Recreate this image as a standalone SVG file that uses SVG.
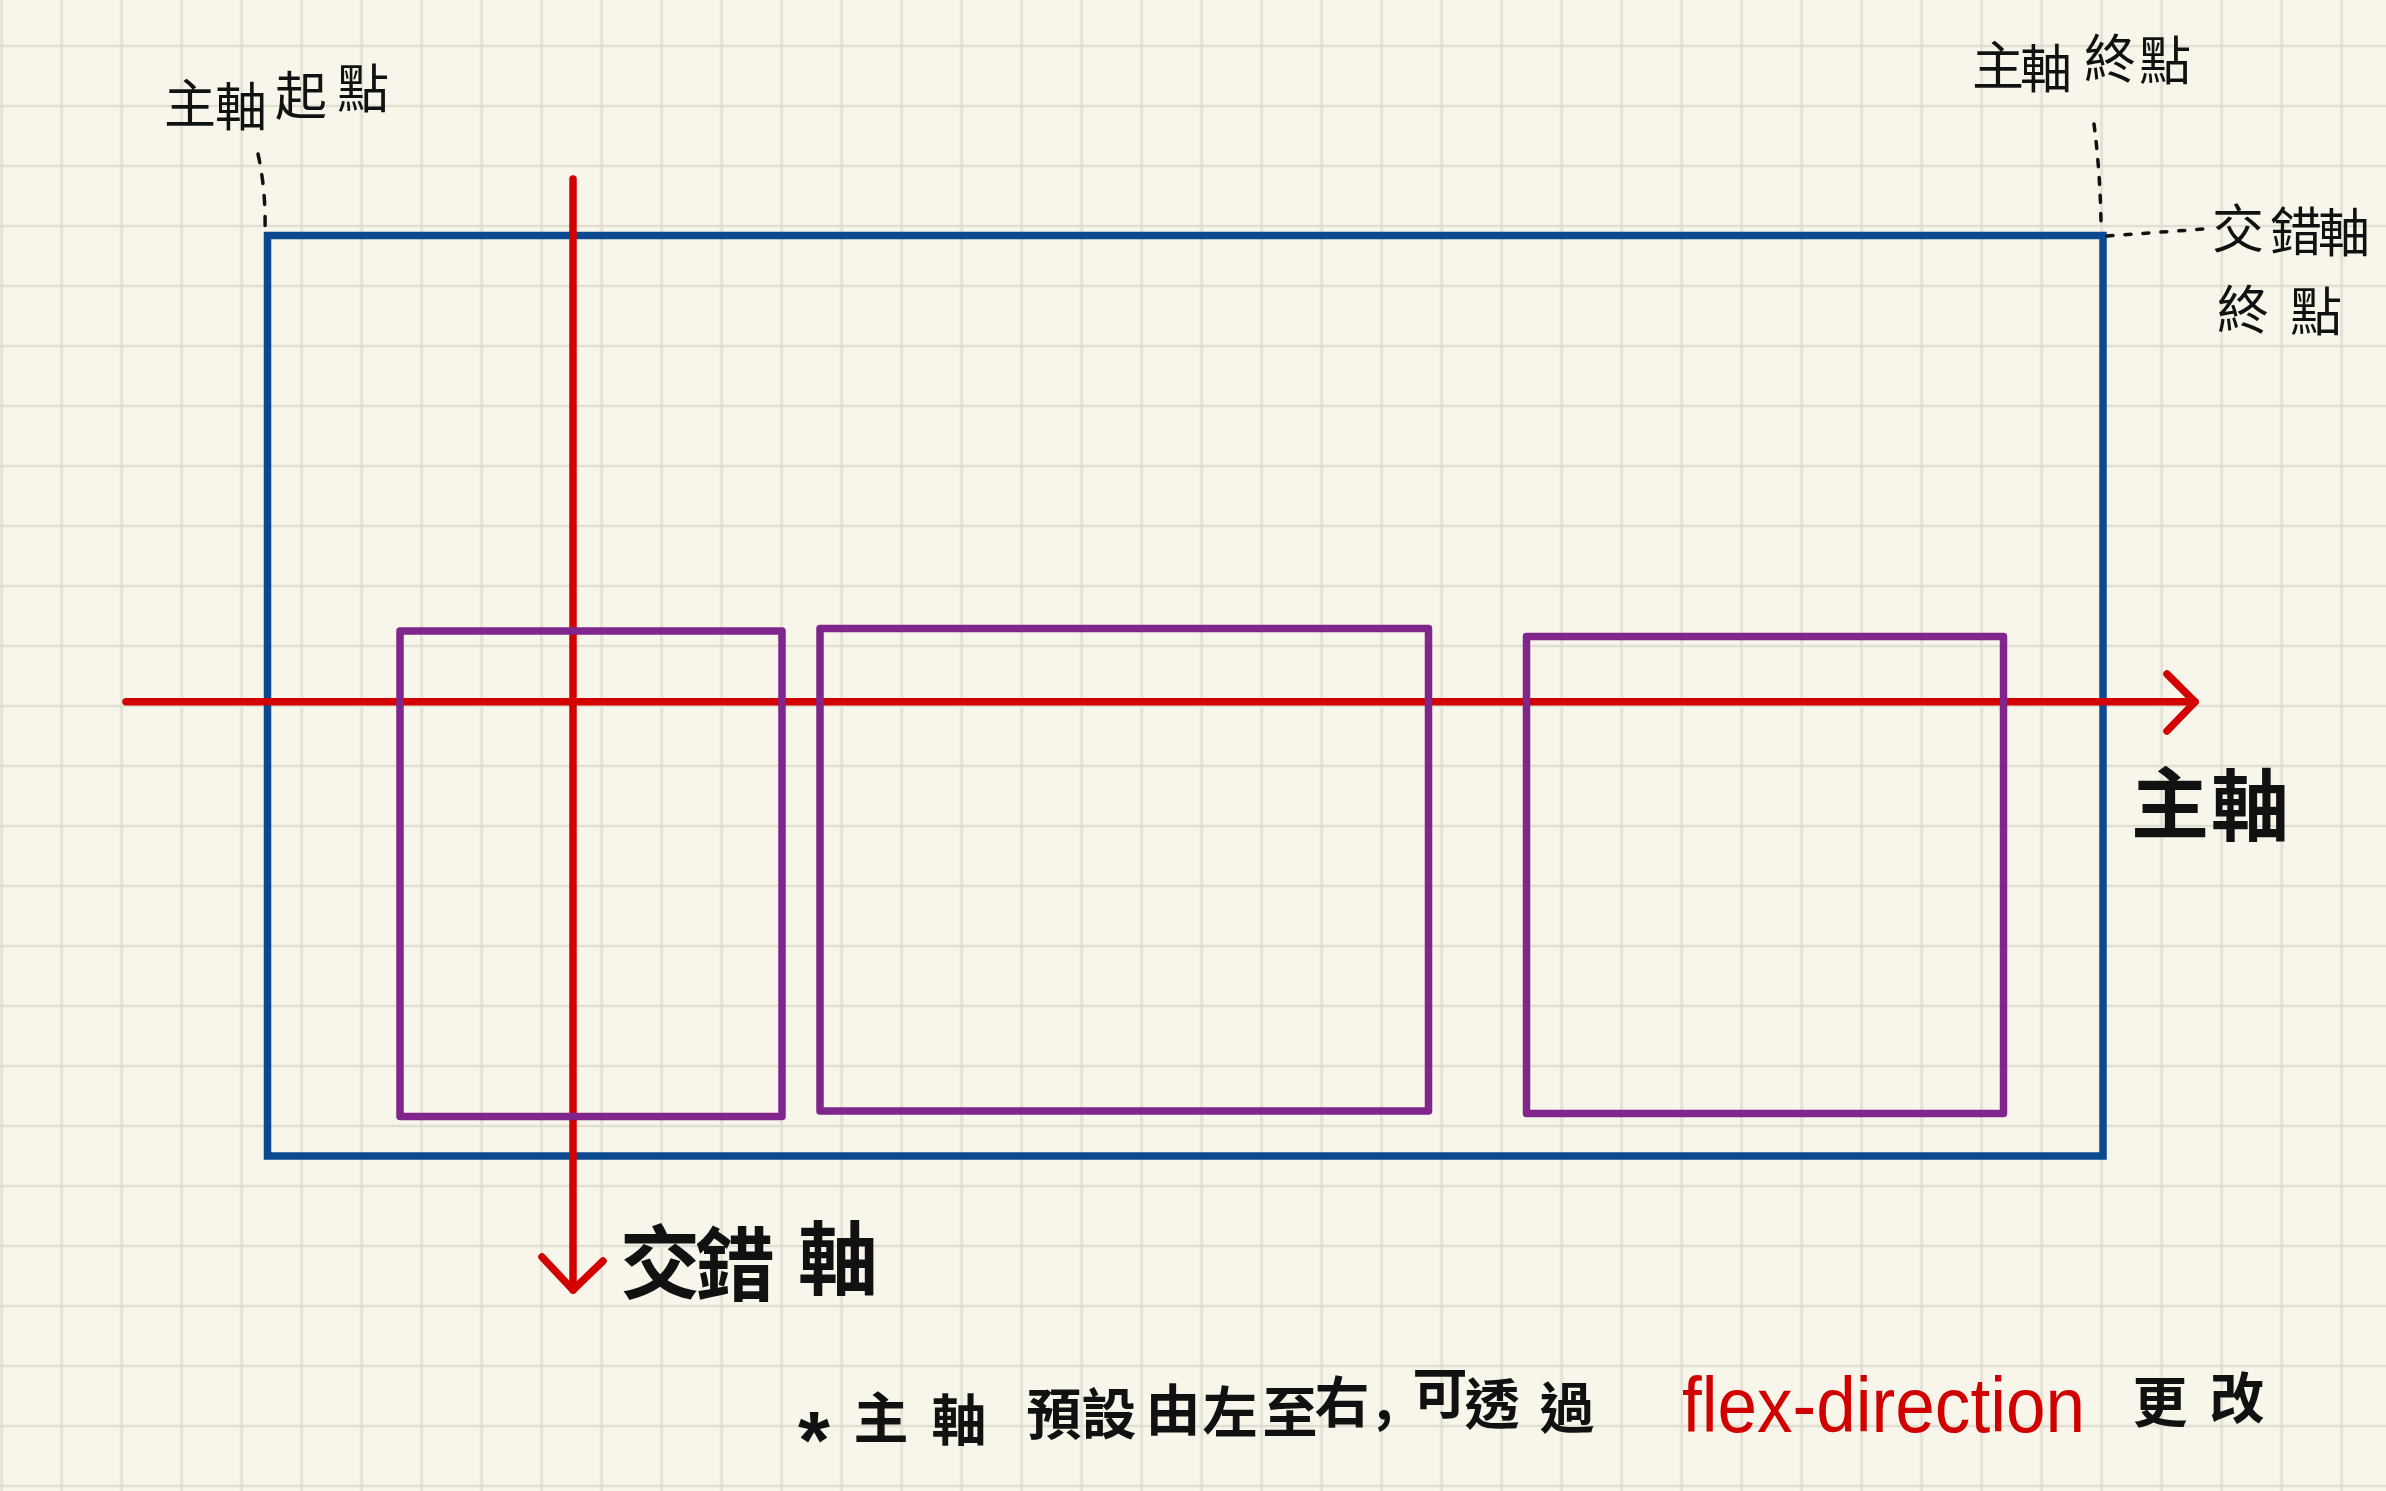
<svg xmlns="http://www.w3.org/2000/svg" width="2386" height="1491" viewBox="0 0 2386 1491">
  <defs>
    <pattern id="grid" patternUnits="userSpaceOnUse" x="-28.4" y="16" width="60" height="60">
      <path d="M30 0 V60 M0 30 H60" stroke="#e1ded3" stroke-width="2.6" fill="none"/>
    </pattern>
    <style>
      .box { fill: none; stroke-width: 7.5; }
      .blue { stroke: #0b4a91; }
      .purple { stroke: #7f258c; stroke-linejoin: round; }
      .axis { fill: none; stroke: #d30000; stroke-width: 7.5; stroke-linecap: round; stroke-linejoin: round; }
      .lead { fill: none; stroke: #111; stroke-width: 3.5; stroke-linecap: round; }
      .cjk { font-family: "Noto Sans CJK TC", "Noto Sans", sans-serif; fill: #111; text-anchor: middle; }
      .small { font-size: 52px; font-weight: 400; }
      .big { font-size: 80px; font-weight: 700; }
      .note { font-size: 55px; font-weight: 700; }
    </style>
  </defs>

  <rect x="0" y="0" width="2386" height="1491" fill="#f8f6ea"/>
  <rect x="0" y="0" width="2386" height="1491" fill="url(#grid)"/>

  <g id="flex-container">
    <rect class="box blue" x="267.5" y="235.5" width="1835.5" height="920.5"/>
  </g>

  <g id="connectors">
    <g id="main-axis">
      <path class="axis" d="M126 701.7 H2195"/>
      <path class="axis" d="M2167 674 L2195 702 L2167 731"/>
    </g>
    <g id="cross-axis">
      <path class="axis" d="M573 179 V1290"/>
      <path class="axis" d="M542 1257 L573 1290 L603 1261"/>
    </g>
    <path class="lead" d="M258 154 Q266 190 265 231" stroke-dasharray="9 12"/>
    <path class="lead" d="M2094 124 Q2100 170 2101 222" stroke-dasharray="7 11"/>
    <path class="lead" d="M2107 236 L2204 229" stroke-dasharray="6 12"/>
  </g>

  <g id="flex-item-1">
    <rect class="box purple" x="400" y="631" width="382" height="485.5"/>
  </g>
  <g id="flex-item-2">
    <rect class="box purple" x="820" y="628.5" width="608.5" height="482.5"/>
  </g>
  <g id="flex-item-3">
    <rect class="box purple" x="1526.5" y="636.5" width="477" height="477"/>
  </g>

  <g id="label-main-start">
    <text class="cjk small" x="190 241 301 363" y="123 126 115 108">主軸起點</text>
  </g>
  <g id="label-main-end">
    <text class="cjk small" x="1998 2046 2110 2165" y="85 88 78 80">主軸終點</text>
  </g>
  <g id="label-cross-end">
    <text class="cjk small" x="2238 2296 2344" y="248 251 252">交錯軸</text>
    <text class="cjk small" x="2243 2316" y="329 331">終點</text>
  </g>
  <g id="label-main-axis">
    <text class="cjk big" x="2170 2250" y="833 835" style="font-size:78px">主軸</text>
  </g>
  <g id="label-cross-axis">
    <text class="cjk big" x="660 735 838" y="1292 1294 1288">交錯軸</text>
  </g>

  <g id="note">
    <text x="814" y="1468" style="font-family:'Liberation Sans',sans-serif;font-size:82px;font-weight:700;fill:#111;text-anchor:middle">*</text>
    <text class="cjk note" x="881 959 1054 1109 1173 1230 1290 1342 1384 1440 1492 1567" y="1438 1440 1434 1434 1430 1432 1432 1422 1420 1413 1424 1428">主軸預設由左至右,可透過</text>
    <text x="1682" y="1432" textLength="403" lengthAdjust="spacingAndGlyphs" style="font-family:'Liberation Sans',sans-serif;font-size:78px;fill:#d10000">flex-direction</text>
    <text class="cjk note" x="2160 2237" y="1422 1418">更改</text>
  </g>
</svg>
